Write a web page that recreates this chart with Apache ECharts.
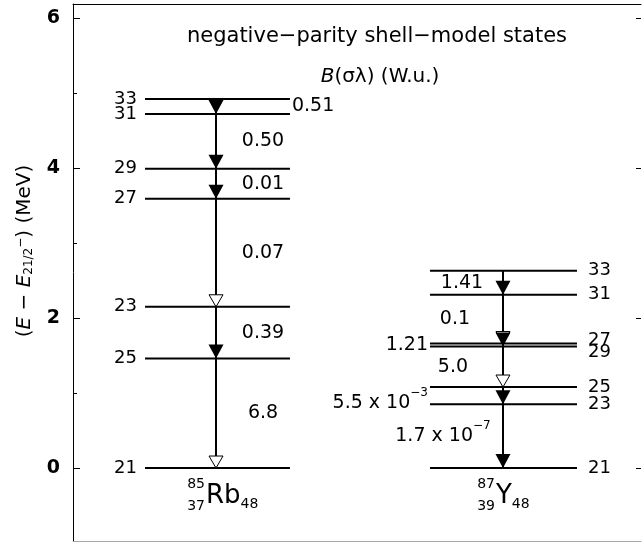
<!DOCTYPE html>
<html>
<head>
<meta charset="utf-8">
<script src="https://cdn.jsdelivr.net/npm/echarts@6/dist/echarts.min.js"></script>
<style>html,body{margin:0;padding:0;background:#fff}#main{width:642px;height:543px}</style>
</head>
<body>
<div id="main"></div>
<script>
// level energies (MeV, relative to the 21/2- state), spins given as 2J
const rbSpins = [21, 25, 23, 27, 29, 31, 33];
const rbEnergies = [0, 1.46, 2.15, 3.59, 3.99, 4.72, 4.92];
const ySpins = [21, 23, 25, 29, 27, 31, 33];
const yEnergies = [0, 0.85, 1.08, 1.62, 1.66, 2.31, 2.63];

// transitions: initial -> final spin, B(σλ) in W.u., 1 = solid arrowhead
const rbFrom = [33, 31, 29, 27, 23, 25];
const rbTo = [31, 29, 27, 23, 25, 21];
const rbB = ['0.51', '0.50', '0.01', '0.07', '0.39', '6.8'];
const rbFilled = [1, 1, 1, 0, 1, 0];
const yFrom = [33, 31, 27, 29, 25, 23];
const yTo = [31, 27, 29, 25, 23, 21];
const yB = ['1.41', '0.1', '1.21', '5.0', '5.5 x 10{sup|−3}', '1.7 x 10{sup|−7}'];
const yFilled = [1, 0, 1, 0, 1, 1];

// nuclide names
const nucSymbol = ['Rb', 'Y'];
const nucA = [85, 87];
const nucZ = [37, 39];
const nucN = [48, 48];

const yTicks = [0, 2, 4, 6];
const yMinorTicks = [1, 3, 5];

// ---- layout (x in 0..100 of the hidden x axis) ----
const cols = [
  { x1: 12.68, x2: 38.2, ax: 25.18 },
  { x1: 62.85, x2: 88.73, ax: 75.7 }
];
const FONT = 'DejaVu Sans';
const spinNudge = [{}, { 27: -3, 29: 6 }];
const rbPlace = ['end', 'mid', 'mid', 'mid', 'mid', 'mid'];
const yPlace = ['mid', 'mid', 'start', 'mid', 'start', 'mid'];
const yMidDx = [-41, -48, 0, -50, 0, -60];

const nuclei = [
  { spins: rbSpins, e: rbEnergies, from: rbFrom, to: rbTo, b: rbB, filled: rbFilled, place: rbPlace },
  { spins: ySpins, e: yEnergies, from: yFrom, to: yTo, b: yB, filled: yFilled, place: yPlace }
];
function energyOf(n, spin) {
  return nuclei[n].e[nuclei[n].spins.indexOf(spin)];
}

const levelData = [], arrowData = [], labelData = [];
nuclei.forEach(function (nuc, n) {
  nuc.spins.forEach(function (s, i) {
    levelData.push([cols[n].x1, cols[n].x2, nuc.e[i], s, n]);
  });
  nuc.from.forEach(function (f, i) {
    const e1 = energyOf(n, f), e2 = energyOf(n, nuc.to[i]);
    arrowData.push([cols[n].ax, e1, e2, nuc.filled[i]]);
    labelData.push([cols[n].ax, (e1 + e2) / 2, e2, n, i]);
  });
});
const nucData = [[cols[0].ax, 0, 0], [cols[1].ax, 0, 1]];

const richSup = {
  sup: { fontSize: 12, fontFamily: FONT, fill: '#000', verticalAlign: 'top', lineHeight: 32 }
};

function renderLevel(params, api) {
  const e = api.value(2), n = api.value(4), s = api.value(3);
  const p1 = api.coord([api.value(0), e]);
  const p2 = api.coord([api.value(1), e]);
  const dy = spinNudge[n][s] || 0;
  return {
    type: 'group',
    children: [
      { type: 'line', shape: { x1: p1[0], y1: p1[1], x2: p2[0], y2: p2[1] },
        style: { stroke: '#000', lineWidth: 2 } },
      { type: 'text', x: n === 0 ? p1[0] - 8 : p2[0] + 11, y: p1[1] + dy,
        style: { text: String(s), fontSize: 18, fontFamily: FONT, fill: '#000',
                 align: n === 0 ? 'right' : 'left', verticalAlign: 'middle' } }
    ]
  };
}

function renderArrow(params, api) {
  const x = api.value(0);
  const a = api.coord([x, api.value(1)]);
  const b = api.coord([x, api.value(2)]);
  const filled = api.value(3) === 1;
  const h = filled ? 14 : 12, w = filled ? 7.5 : 7;
  return {
    type: 'group',
    children: [
      { type: 'line', shape: { x1: a[0], y1: a[1], x2: b[0], y2: b[1] },
        style: { stroke: '#000', lineWidth: 2 } },
      { type: 'polygon', shape: { points: [[b[0], b[1]], [b[0] - w, b[1] - h], [b[0] + w, b[1] - h]] },
        style: filled ? { fill: '#000' } : { fill: '#fff', stroke: '#000', lineWidth: 1 } }
    ]
  };
}

function renderLabel(params, api) {
  const n = api.value(3), i = api.value(4);
  const nuc = nuclei[n];
  const place = nuc.place[i];
  const mid = api.coord([api.value(0), api.value(1)]);
  const low = api.coord([api.value(0), api.value(2)]);
  let x, y = mid[1], align = 'center';
  if (n === 0) {
    if (place === 'end') {
      x = api.coord([cols[0].x2, 0])[0] + 2; align = 'left';
    } else {
      x = mid[0] + 47;
    }
  } else {
    if (place === 'start') {
      x = api.coord([cols[1].x1, 0])[0] - 2; align = 'right'; y = low[1] - 1;
    } else {
      x = mid[0] + yMidDx[i];
    }
  }
  return {
    type: 'text', x: x, y: y,
    style: { text: nuc.b[i], fontSize: 19, fontFamily: FONT, fill: '#000',
             align: align, verticalAlign: 'middle', rich: richSup }
  };
}

function renderNuclide(params, api) {
  const k = api.value(2);
  const p = api.coord([api.value(0), api.value(1)]);
  const x0 = p[0] + (k === 0 ? -10 : -7);
  const y0 = p[1];
  const small = { fontSize: 14, fontFamily: FONT, fill: '#000', verticalAlign: 'middle' };
  return {
    type: 'group',
    children: [
      { type: 'text', x: x0 - 1, y: y0 + 16, style: Object.assign({ text: String(nucA[k]), align: 'right' }, small) },
      { type: 'text', x: x0 - 1, y: y0 + 38, style: Object.assign({ text: String(nucZ[k]), align: 'right' }, small) },
      { type: 'text', x: x0, y: y0 + 28,
        style: { text: '{s|' + nucSymbol[k] + '}{n|' + nucN[k] + '}', align: 'left', verticalAlign: 'middle',
                 rich: {
                   s: { fontSize: 26, fontFamily: FONT, fill: '#000', lineHeight: 30 },
                   n: { fontSize: 14, fontFamily: FONT, fill: '#000', verticalAlign: 'bottom', lineHeight: 14 }
                 } } }
    ]
  };
}

const yBase = { type: 'value', min: -0.973, max: 6.187, splitLine: { show: false } };
const xBase = { type: 'value', min: 0, max: 100, axisTick: { show: false }, axisLabel: { show: false }, splitLine: { show: false } };

const chart = echarts.init(document.getElementById('main'), null, { renderer: 'canvas' });
chart.setOption({
  animation: false,
  backgroundColor: '#fff',
  grid: { left: 73, right: 1, top: 4, bottom: 2, containLabel: false, outerBoundsMode: 'none' },
  xAxis: [
    Object.assign({}, xBase, { position: 'bottom', axisLine: { show: true, onZero: false, lineStyle: { color: '#a8a8a8', width: 1 } } }),
    Object.assign({}, xBase, { position: 'top', axisLine: { show: true, onZero: false, lineStyle: { color: '#000', width: 1 } } })
  ],
  yAxis: [
    Object.assign({}, yBase, {
      position: 'left',
      axisLine: { show: true, onZero: false, lineStyle: { color: '#000', width: 1 } },
      axisTick: { show: true, inside: true, length: 7, customValues: yTicks, lineStyle: { color: '#000' } },
      axisLabel: { customValues: yTicks, margin: 13, fontSize: 19, fontWeight: 'bold', color: '#000', fontFamily: FONT }
    }),
    Object.assign({}, yBase, {
      position: 'left',
      axisLine: { show: false, onZero: false },
      axisTick: { show: true, inside: true, length: 4, customValues: yMinorTicks, lineStyle: { color: '#000' } },
      axisLabel: { show: false }
    }),
    Object.assign({}, yBase, {
      position: 'right',
      axisLine: { show: false, onZero: false },
      axisTick: { show: true, inside: true, length: 5, customValues: yTicks, lineStyle: { color: '#000' } },
      axisLabel: { show: false }
    })
  ],
  graphic: [
    { type: 'text', x: 377, y: 37,
      style: { text: 'negative−parity shell−model states', fontSize: 21, fontFamily: FONT, fill: '#000',
               align: 'center', verticalAlign: 'middle' } },
    { type: 'text', x: 380, y: 77,
      style: { text: '{i|B}(σλ) (W.u.)', fontSize: 20, fontFamily: FONT, fill: '#000',
               align: 'center', verticalAlign: 'middle',
               rich: { i: { fontSize: 20, fontFamily: FONT, fontStyle: 'italic', fill: '#000' } } } },
    // y axis title
    { type: 'text', x: 25, y: 251, rotation: Math.PI / 2,
      style: { text: '({i|E} − {i|E}{sub|21/2}{sup|−}) (MeV)', fontSize: 20, fontFamily: FONT, fill: '#000',
               align: 'center', verticalAlign: 'middle',
               rich: {
                 i: { fontSize: 20, fontFamily: FONT, fontStyle: 'italic', fill: '#000' },
                 sub: { fontSize: 12, fontFamily: FONT, fill: '#000', verticalAlign: 'bottom', lineHeight: 12, padding: [10, 0, 0, 0] },
                 sup: { fontSize: 12, fontFamily: FONT, fill: '#000', verticalAlign: 'top', lineHeight: 12, padding: [0, 0, 10, 0] }
               } } }
  ],
  series: [
    { type: 'custom', name: 'levels', coordinateSystem: 'cartesian2d', clip: false, silent: true,
      encode: { x: [0, 1], y: 2 }, data: levelData, renderItem: renderLevel },
    { type: 'custom', name: 'transitions', coordinateSystem: 'cartesian2d', clip: false, silent: true,
      encode: { x: 0, y: [1, 2] }, data: arrowData, renderItem: renderArrow },
    { type: 'custom', name: 'B values', coordinateSystem: 'cartesian2d', clip: false, silent: true,
      encode: { x: 0, y: 1 }, data: labelData, renderItem: renderLabel },
    { type: 'custom', name: 'nuclides', coordinateSystem: 'cartesian2d', clip: false, silent: true,
      encode: { x: 0, y: 1 }, data: nucData, renderItem: renderNuclide }
  ]
});
</script>
</body>
</html>
